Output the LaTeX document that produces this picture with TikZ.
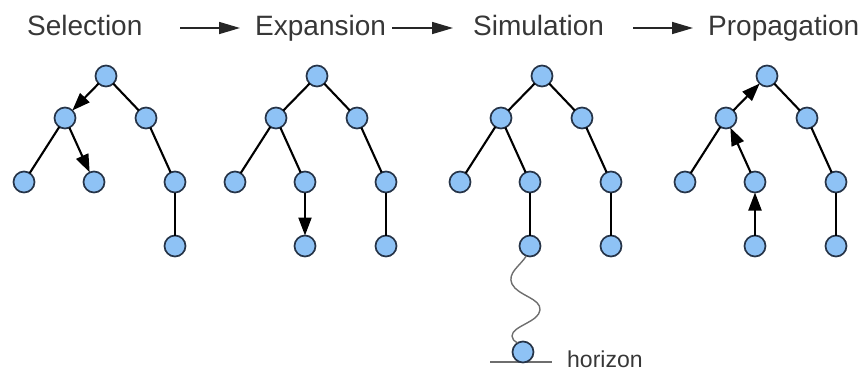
\documentclass[tikz,border=0pt]{standalone}
\usepackage{fontspec}
\setmainfont{Liberation Sans}
\usetikzlibrary{arrows.meta}
\definecolor{nodefill}{RGB}{142,194,245}
\definecolor{nodeline}{RGB}{38,52,72}
\definecolor{txt}{RGB}{55,55,55}
\definecolor{wave}{RGB}{110,110,110}
\begin{document}
\begin{tikzpicture}[x=1pt,y=-1pt,
  tn/.style={circle,draw=nodeline,fill=nodefill,line width=1.7pt,minimum size=21pt,inner sep=0pt,outer sep=0pt},
  edge/.style={draw=black,line width=2.1pt},
  arr/.style={edge,-{Triangle[length=18pt,width=13pt]}},
  hdr/.style={anchor=base west,font=\fontsize{28}{30}\selectfont,text=txt,inner sep=0pt},
  harr/.style={draw=black!85,line width=1.6pt,-{Triangle[length=21pt,width=12pt]}}]
\useasboundingbox (0,0) rectangle (863,373);
% headers
\node[hdr] (hsel) at (27,35) {Selection};
\node[hdr] (hexp) at (255,35) {Expansion};
\node[hdr] (hsim) at (473,35) {Simulation};
\node[hdr] (hpro) at (708,35) {Propagation};
\coordinate (a1s) at (180,28); \coordinate (a1e) at (240,28);
\coordinate (a2s) at (392,28); \coordinate (a2e) at (453,28);
\coordinate (a3s) at (633,28); \coordinate (a3e) at (693,28);
\draw[harr] (a1s) -- (a1e);
\draw[harr] (a2s) -- (a2e);
\draw[harr] (a3s) -- (a3e);
% trees
\foreach \t/\x in {1/106,2/317,3/542,4/767}{
  \node[tn] (r\t) at (\x,76) {};
  \node[tn] (l\t) at (\x-41,118) {};
  \node[tn] (q\t) at (\x+40,118) {};
  \node[tn] (ll\t) at (\x-82,182) {};
  \node[tn] (lm\t) at (\x-12,182) {};
  \node[tn] (qr\t) at (\x+69,182) {};
  \node[tn] (qb\t) at (\x+69,246) {};
}
\node[tn] (b2) at (305,246) {};
\node[tn] (b3) at (530,246) {};
\node[tn] (b4) at (755,246) {};
% tree 1 Selection
\draw[arr] (r1) -- (l1);
\draw[edge] (r1) -- (q1);
\draw[edge] (l1) -- (ll1);
\draw[arr] (l1) -- (lm1);
\draw[edge] (q1) -- (qr1);
\draw[edge] (qr1) -- (qb1);
% tree 2 Expansion
\draw[edge] (r2) -- (l2);
\draw[edge] (r2) -- (q2);
\draw[edge] (l2) -- (ll2);
\draw[edge] (l2) -- (lm2);
\draw[arr] (lm2) -- (b2);
\draw[edge] (q2) -- (qr2);
\draw[edge] (qr2) -- (qb2);
% tree 3 Simulation
\draw[edge] (r3) -- (l3);
\draw[edge] (r3) -- (q3);
\draw[edge] (l3) -- (ll3);
\draw[edge] (l3) -- (lm3);
\draw[edge] (lm3) -- (b3);
\draw[edge] (q3) -- (qr3);
\draw[edge] (qr3) -- (qb3);
\coordinate (hl) at (490,362); \coordinate (hr) at (552,362);
\draw[wave,line width=1.6pt] (hl) -- (hr);
\node[tn] (hz) at (523,352) {};
\draw[wave,line width=1.4pt] (b3.-110) .. controls (520,266) and (507,273) .. (512,284)
  .. controls (518,296) and (541,298) .. (540,310)
  .. controls (539,322) and (512,326) .. (512,336)
  .. controls (512,339) and (514,341) .. (hz.120);
\node[anchor=base west,font=\fontsize{23}{25}\selectfont,text=txt,inner sep=0pt] (hor) at (567,367) {horizon};
% tree 4 Propagation
\draw[arr] (l4) -- (r4);
\draw[edge] (r4) -- (q4);
\draw[edge] (l4) -- (ll4);
\draw[arr] (lm4) -- (l4);
\draw[arr] (b4) -- (lm4);
\draw[edge] (q4) -- (qr4);
\draw[edge] (qr4) -- (qb4);
\end{tikzpicture}
\end{document}
